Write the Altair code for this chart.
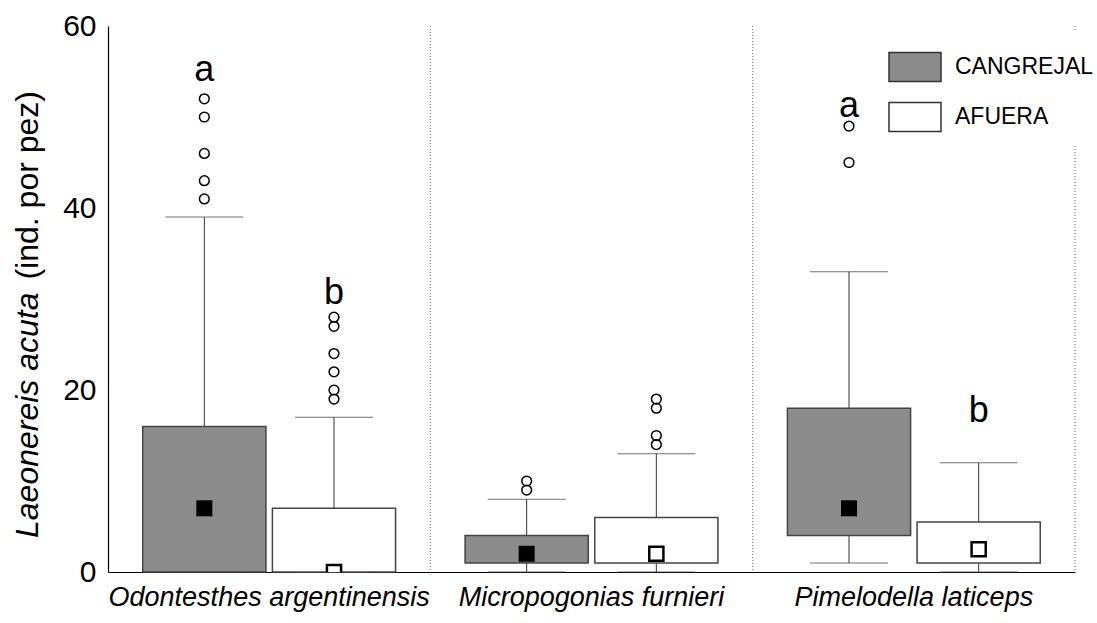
import altair as alt
import pandas as pd

FONT = "Liberation Sans"

species = ["Odontesthes argentinensis", "Micropogonias furnieri", "Pimelodella laticeps"]
groups = ["CANGREJAL", "AFUERA"]

# one entry per box: species x group (CANGREJAL, AFUERA)
box_species = [species[0], species[0], species[1], species[1], species[2], species[2]]
box_group = ["CANGREJAL", "AFUERA"] * 3
q1 = [0, 0, 1, 1, 4, 1]
q3 = [16, 7, 4, 6, 18, 5.5]
median = [7, 0, 2, 2, 7, 2.5]
whisk_lo = [0, 0, 0, 0, 1, 0]
whisk_hi = [39, 17, 8, 13, 33, 12]
outliers = [
    [41, 43, 46, 50, 52],
    [19, 20, 22, 24, 27, 28],
    [9, 10],
    [14, 15, 18, 19],
    [45, 49],
    [],
]
letters = ["a", "b", "", "", "a", "b"]
letter_y = [54, 29.5, None, None, 50, 16.5]

boxes = pd.DataFrame({
    "species": box_species, "grupo": box_group, "q1": q1, "q3": q3,
    "med": median, "lo": whisk_lo, "hi": whisk_hi,
})
out_rows = []
for s, g, vals in zip(box_species, box_group, outliers):
    for v in vals:
        out_rows.append({"species": s, "grupo": g, "value": v})
outs = pd.DataFrame(out_rows)
let_rows = [
    {"species": s, "grupo": g, "letter": l, "y": y}
    for s, g, l, y in zip(box_species, box_group, letters, letter_y) if l
]
lets = pd.DataFrame(let_rows)
seps = pd.DataFrame({"species": species})

x_scale = alt.Scale(domain=species, paddingInner=0, paddingOuter=0)
x_axis = alt.Axis(title=None, ticks=False, labelAngle=0, labelFont=FONT,
                  labelFontSize=27, labelFontStyle="italic", labelColor="black",
                  labelPadding=12, labelLimit=0, domainColor="black",
                  domainWidth=1.2, grid=False)
x_enc = alt.X("species:N", scale=x_scale, axis=x_axis, sort=species)
xo_enc = alt.XOffset(
    "grupo:N",
    scale=alt.Scale(domain=groups, paddingInner=0.05, paddingOuter=0.268),
    sort=groups,
)
y_scale = alt.Scale(domain=[0, 60], nice=False, zero=True)
y_axis = alt.Axis(title=None, values=[0, 20, 40, 60], ticks=False, grid=False,
                  labelFont=FONT, labelFontSize=30, labelColor="black",
                  labelPadding=12, domainColor="black", domainWidth=1.2)

base = alt.Chart(boxes)

sep_layer = alt.Chart(seps).mark_rule(
    color="#666666", strokeDash=[1, 2], strokeWidth=1
).encode(x=alt.X("species:N", bandPosition=1, scale=x_scale, axis=x_axis, sort=species))

whisk_up = base.mark_rule(color="#333333", strokeWidth=1).encode(
    x=x_enc, xOffset=xo_enc,
    y=alt.Y("q3:Q", scale=y_scale, axis=y_axis), y2="hi:Q")
whisk_dn = base.mark_rule(color="#333333", strokeWidth=1).encode(
    x=x_enc, xOffset=xo_enc, y=alt.Y("lo:Q", scale=y_scale, axis=y_axis), y2="q1:Q")
cap_hi = base.mark_tick(color="#333333", thickness=1, size=78).encode(
    x=x_enc, xOffset=xo_enc, y=alt.Y("hi:Q", scale=y_scale, axis=y_axis))
cap_lo = base.mark_tick(color="#333333", thickness=1, size=78).encode(
    x=x_enc, xOffset=xo_enc, y=alt.Y("lo:Q", scale=y_scale, axis=y_axis))

bars = base.mark_bar(stroke="#444444", strokeWidth=1.5).encode(
    x=x_enc, xOffset=xo_enc,
    y=alt.Y("q1:Q", scale=y_scale, axis=y_axis), y2="q3:Q",
    fill=alt.Fill(
        "grupo:N",
        scale=alt.Scale(domain=groups, range=["#8c8c8c", "#ffffff"]),
        legend=alt.Legend(
            title=None, orient="none", legendX=770, legendY=4,
            symbolType="M-1,-0.56H1V0.56H-1Z", symbolSize=2704,
            symbolStrokeColor="#333333", symbolStrokeWidth=1.5,
            labelFont=FONT, labelFontSize=23, labelColor="black",
            labelOffset=13, rowPadding=5, fillColor="white", padding=10,
        ),
    ),
)

med_fill = base.transform_filter(alt.datum.grupo == "CANGREJAL").mark_point(
    shape="square", filled=True, color="black", size=256, opacity=1, clip=True
).encode(x=x_enc, xOffset=xo_enc, y=alt.Y("med:Q", scale=y_scale, axis=y_axis))
med_open = base.transform_filter(alt.datum.grupo == "AFUERA").mark_point(
    shape="square", filled=True, fill="white", stroke="black", strokeWidth=2.5,
    size=200, opacity=1, strokeOpacity=1, clip=True
).encode(x=x_enc, xOffset=xo_enc, y=alt.Y("med:Q", scale=y_scale, axis=y_axis))

out_layer = alt.Chart(outs).mark_point(
    shape="circle", filled=False, stroke="black", strokeWidth=1.5, size=95, opacity=1
).encode(x=x_enc, xOffset=xo_enc, y=alt.Y("value:Q", scale=y_scale, axis=y_axis))

let_layer = alt.Chart(lets).mark_text(
    font=FONT, fontSize=36, color="black", baseline="alphabetic", align="center"
).encode(x=x_enc, xOffset=xo_enc, y=alt.Y("y:Q", scale=y_scale, axis=y_axis),
         text="letter:N")

title_it = alt.Chart(pd.DataFrame({"t": ["Laeonereis acuta"]})).mark_text(
    font=FONT, fontSize=32, fontStyle="italic", angle=270, align="left",
    baseline="alphabetic", color="black"
).encode(text="t:N", x=alt.value(-70), y=alt.value(512))
title_nm = alt.Chart(pd.DataFrame({"t": ["(ind. por pez)"]})).mark_text(
    font=FONT, fontSize=32, angle=270, align="right",
    baseline="alphabetic", color="black"
).encode(text="t:N", x=alt.value(-70), y=alt.value(65))

chart = alt.layer(
    sep_layer, whisk_up, whisk_dn, cap_hi, cap_lo, bars,
    med_fill, med_open, out_layer, let_layer, title_it, title_nm,
).properties(
    width=967, height=546,
    padding={"left": 108, "top": 26, "right": 22, "bottom": 51},
    autosize=alt.AutoSizeParams(type="none"),
    background="white",
).configure_view(stroke=None)

chart.save("out.html", embed_options={"renderer": "svg", "actions": False})
